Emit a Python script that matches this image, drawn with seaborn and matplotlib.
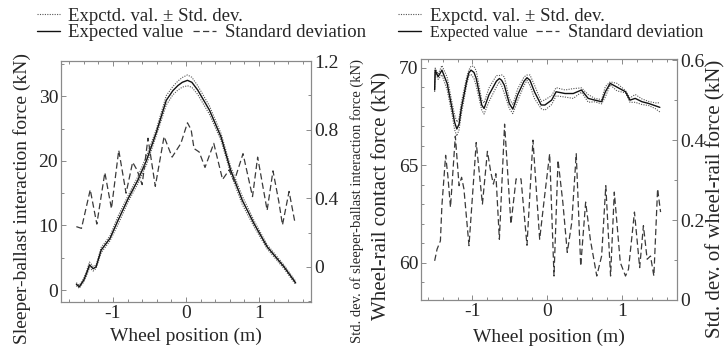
import numpy as np
import pandas as pd
import matplotlib
matplotlib.use("Agg")
import matplotlib.pyplot as plt
from matplotlib.lines import Line2D
from matplotlib.ticker import MultipleLocator, FuncFormatter
import seaborn as sns

# ---------------- data ----------------
# Left panel: sleeper-ballast interaction force
sb_x_mean = [-1.50, -1.46, -1.40, -1.36, -1.32, -1.27, -1.23, -1.16, -1.04, -0.93, -0.79, -0.66,
             -0.54, -0.41, -0.27, -0.18, -0.11, -0.05, 0.02, 0.08, 0.16, 0.32, 0.48, 0.61, 0.77,
             0.93, 1.11, 1.34, 1.50]
sb_mean = [0.9, 0.5, 1.5, 2.6, 3.9, 3.3, 3.6, 6.2, 8.0, 10.8, 14.2, 17.0,
           20.1, 24.3, 29.4, 30.9, 31.7, 32.2, 32.5, 32.2, 31.0, 27.9, 23.7, 18.6, 13.9,
           10.3, 6.7, 3.6, 1.1]
sb_x_std = [-1.50, -1.43, -1.31, -1.22, -1.11, -1.02, -0.92, -0.82, -0.73, -0.67, -0.60, -0.52,
            -0.42, -0.30, -0.19, -0.07, 0.02, 0.07, 0.11, 0.18, 0.26, 0.38, 0.50, 0.59, 0.66,
            0.78, 0.91, 0.98, 1.11, 1.19, 1.27, 1.32, 1.41, 1.49]
sb_std = [0.235, 0.225, 0.45, 0.25, 0.55, 0.34, 0.68, 0.43, 0.61, 0.565, 0.48, 0.75,
          0.47, 0.76, 0.64, 0.72, 0.84, 0.80, 0.69, 0.67, 0.58, 0.72, 0.51, 0.565, 0.50,
          0.66, 0.41, 0.64, 0.33, 0.56, 0.38, 0.245, 0.44, 0.26]

# Right panel: wheel-rail contact force
wr_x_mean = [-1.507, -1.50, -1.46, -1.41, -1.34, -1.27, -1.24, -1.21, -1.18, -1.15, -1.08, -1.05,
             -1.02, -0.98, -0.95, -0.876, -0.845, -0.78, -0.68, -0.64, -0.61, -0.574, -0.507,
             -0.46, -0.395, -0.31, -0.27, -0.23, -0.17, -0.08, -0.03, 0.06, 0.12, 0.24, 0.35,
             0.46, 0.55, 0.64, 0.73, 0.78, 0.845, 0.935, 1.05, 1.11, 1.18, 1.27, 1.36, 1.45, 1.51]
wr_mean = [68.85, 69.87, 69.53, 69.87, 69.19, 67.82, 67.20, 66.85, 67.10, 67.90, 69.27, 69.72,
           69.87, 69.75, 69.44, 68.08, 67.90, 68.60, 69.30, 69.44, 69.35, 69.10, 68.16,
           67.87, 68.60, 69.30, 69.48, 69.35, 68.76, 68.08, 68.08, 68.33, 68.76, 68.67, 68.67,
           68.85, 68.42, 68.33, 68.25, 68.76, 69.19, 69.00, 68.76, 68.33, 68.42, 68.25, 68.16,
           68.04, 67.96]
wr_x_std = [-1.507, -1.475, -1.43, -1.41, -1.36, -1.33, -1.295, -1.23, -1.18, -1.146, -1.115, -1.047,
            -0.95, -0.867, -0.80, -0.755, -0.72, -0.687, -0.64, -0.57, -0.485, -0.416, -0.35, -0.27,
            -0.19, -0.10, -0.034, 0.034, 0.092, 0.146, 0.21, 0.27, 0.33, 0.39, 0.45, 0.516, 0.58,
            0.665, 0.73, 0.786, 0.85, 0.90, 0.98, 1.05, 1.09, 1.17, 1.24, 1.29, 1.34, 1.385, 1.43,
            1.48, 1.52]
wr_std = [0.098, 0.127, 0.148, 0.236, 0.362, 0.31, 0.232, 0.41, 0.286, 0.307, 0.278, 0.136,
          0.394, 0.24, 0.372, 0.32, 0.29, 0.316, 0.152, 0.44, 0.19, 0.303, 0.303, 0.137,
          0.40, 0.152, 0.26, 0.366, 0.06, 0.35, 0.245, 0.119, 0.194, 0.366, 0.085, 0.245, 0.15,
          0.06, 0.11, 0.286, 0.06, 0.27, 0.094, 0.06, 0.077, 0.22, 0.081, 0.186, 0.102, 0.11, 0.06,
          0.278, 0.22]

xlabel = "Wheel position (m)"
legend_band = "Expctd. val. \u00b1 Std. dev."
legend_mean = "Expected value"
legend_std = "Standard deviation"

# ---------------- style ----------------
sns.set_style("ticks")
plt.rcParams["font.family"] = ["Liberation Serif", "DejaVu Serif"]
plt.rcParams["axes.unicode_minus"] = False

FRAME = "#8a8a8a"
C_MEAN = "#111111"
C_BAND = "#555555"
C_STD = "#3a3a3a"
DASH = (5, 2.6)
DOT = (0, (1, 1.2))

fig = plt.figure(figsize=(7.26, 3.49), dpi=100)
W, H = 726.0, 349.0


def add_ax(l, r, t, b):
    return fig.add_axes([l / W, 1 - b / H, (r - l) / W, (b - t) / H])


def style_axes(ax):
    for sp in ax.spines.values():
        sp.set_color(FRAME)
        sp.set_linewidth(0.8)
    ax.tick_params(axis="both", which="both", direction="in", color=FRAME, width=0.7,
                   labelsize=14, pad=2)
    ax.tick_params(which="major", length=3.5)
    ax.tick_params(which="minor", length=2.0)


fmt = FuncFormatter(lambda v, p: f"{v:g}")


def panel(ax, xm, mean, xs, std, xlim, ylim, ylim2, ymaj, ymin, y2maj, y2min,
          ylabel, ylabel2, ylab_fs, ylab2_fs, ylab_x, ylab2_x, xlab_y):
    dfm = pd.DataFrame({"x": xm, "mean": mean})
    std_at_mean = np.interp(dfm["x"], xs, std)
    dfm["upper"] = dfm["mean"] + std_at_mean
    dfm["lower"] = dfm["mean"] - std_at_mean
    dfs = pd.DataFrame({"x": xs, "std": std})

    for col in ("upper", "lower"):
        sns.lineplot(data=dfm, x="x", y=col, ax=ax, color=C_BAND, lw=0.8,
                     linestyle=DOT, estimator=None, sort=False)
    sns.lineplot(data=dfm, x="x", y="mean", ax=ax, color=C_MEAN, lw=1.0,
                 estimator=None, sort=False)
    ax2 = ax.twinx()
    sns.lineplot(data=dfs, x="x", y="std", ax=ax2, color=C_STD, lw=0.9,
                 linestyle=(0, DASH), estimator=None, sort=False)

    ax.set_xlim(*xlim)
    ax.set_ylim(*ylim)
    ax2.set_ylim(*ylim2)
    ax.xaxis.set_major_locator(MultipleLocator(1))
    ax.xaxis.set_minor_locator(MultipleLocator(0.2))
    ax.yaxis.set_major_locator(MultipleLocator(ymaj))
    ax.yaxis.set_minor_locator(MultipleLocator(ymin))
    ax2.yaxis.set_major_locator(MultipleLocator(y2maj))
    ax2.yaxis.set_minor_locator(MultipleLocator(y2min))
    ax.xaxis.set_major_formatter(fmt)
    ax.yaxis.set_major_formatter(fmt)
    ax2.yaxis.set_major_formatter(fmt)

    style_axes(ax)
    style_axes(ax2)
    ax.tick_params(axis="x", which="both", top=True, bottom=True)
    ax.tick_params(axis="y", which="both", left=True, right=False)
    ax2.tick_params(axis="y", which="both", right=True, left=False)

    ax.set_xlabel(xlabel, fontsize=14)
    ax.xaxis.set_label_coords(0.5, xlab_y)
    ax.set_ylabel(ylabel, fontsize=ylab_fs)
    ax.yaxis.set_label_coords(ylab_x, 0.43)
    ax2.set_ylabel(ylabel2, fontsize=ylab2_fs)
    ax2.yaxis.set_label_coords(ylab2_x, 0.42)
    return ax2


ax1 = add_ax(61, 311, 61, 302)
panel(ax1, sb_x_mean, sb_mean, sb_x_std, sb_std,
      (-1.71, 1.71), (-1.86, 35.5), (-0.204, 1.2), 10, 5, 0.4, 0.2,
      "Sleeper-ballast interaction force (kN)",
      "Std. dev. of sleeper-ballast interaction force (kN)",
      14, 10.5, -0.12, 1.155, -0.105)

ax3 = add_ax(421, 677, 59, 300)
panel(ax3, wr_x_mean, wr_mean, wr_x_std, wr_std,
      (-1.69, 1.74), (58.08, 70.44), (0.0, 0.603), 5, 1, 0.2, 0.1,
      "Wheel-rail contact force (kN)",
      "Std. dev. of wheel-rail force (kN)",
      15, 15, -0.115, 1.115, -0.12)

# ---------------- legends ----------------
h_band = Line2D([], [], color=C_BAND, lw=0.8, linestyle=DOT)
h_mean = Line2D([], [], color=C_MEAN, lw=1.0)
h_std = Line2D([], [], color=C_STD, lw=0.9, linestyle=(0, DASH))

for x0, xcol, fs_m, fs_s in [(36.5, 193.0, 13.5, 13.5), (398.0, 536.0, 11.5, 13.0)]:
    for h, lab, xx, yy, fs in [(h_band, legend_band, x0, 16.0, 13.5),
                               (h_mean, legend_mean, x0, 32.7, fs_m),
                               (h_std, legend_std, xcol, 32.7, fs_s)]:
        fig.legend([h], [lab], loc="center left",
                   bbox_to_anchor=(xx / W, 1 - yy / H), frameon=False, fontsize=fs,
                   handlelength=1.25 * 13.5 / fs, handletextpad=0.45 * 13.5 / fs,
                   borderpad=0, borderaxespad=0)

fig.savefig("out.png", dpi=100)
